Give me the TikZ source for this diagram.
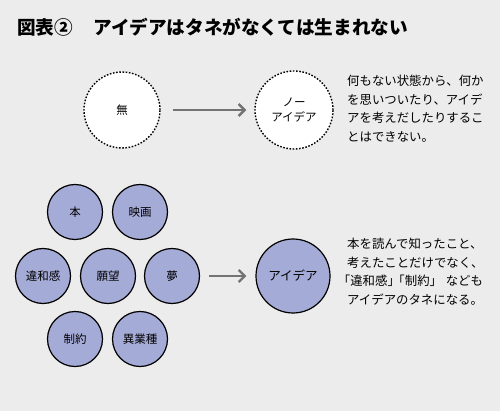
\documentclass[tikz,border=0pt]{standalone}
\usepackage{fontspec}
\setmainfont{Noto Sans CJK JP}
\usetikzlibrary{arrows.meta}
\definecolor{bg}{HTML}{EBECEB}
\definecolor{lav}{HTML}{A5ABD7}
\definecolor{arr}{HTML}{737373}
\newcommand{\lbr}[1]{\makebox[#1][r]{「}}
\newcommand{\rbr}[1]{\makebox[#1][l]{」}}
\begin{document}
\begin{tikzpicture}[x=1pt,y=-1pt,
  dotc/.style={circle,draw=black,fill=white,line width=1.4pt,dash pattern=on 1.6pt off 1.6pt,minimum size=76pt,inner sep=0pt,font=\fontsize{11.5}{15}\selectfont,align=center},
  lavc/.style={circle,draw=black,fill=lav,line width=1.2pt,minimum size=55pt,inner sep=0pt,font=\fontsize{11.5}{14}\selectfont},
  bigc/.style={circle,draw=black,fill=lav,line width=1.2pt,minimum size=74pt,inner sep=0pt,font=\fontsize{12.5}{15}\selectfont},
  arrow/.style={draw=arr,line width=2.6pt,-{Straight Barb[length=6pt,width=12pt,line width=2.4pt]}},
  body/.style={anchor=north west,inner sep=0pt,align=left,font=\fontsize{12.4}{18.5}\selectfont}]
\fill[bg] (0,0) rectangle (500,411);
\useasboundingbox (0,0) rectangle (500,411);
\node[anchor=west,inner sep=0pt,font=\fontsize{18.6}{20}\selectfont\bfseries] (title) at (17,27) {図表②\hspace{1.1em}アイデアはタネがなくては生まれない};
% top row
\node[dotc] (mu) at (122,110) {無};
\node[dotc,minimum size=78pt] (no) at (294,110) {ノー\\アイデア};
\coordinate (a1s) at ([xshift=12pt]mu.east);
\coordinate (a1e) at ([xshift=-8pt]no.west);
\draw[arrow] (a1s) -- (a1e);
\node[body] (t1) at (347,75) {何もない状態から、何か\\を思いついたり、アイデ\\アを考えだしたりするこ\\とはできない。};
% bottom cluster
\node[lavc] (hon) at (75,212) {本};
\node[lavc] (eiga) at (140,212) {映画};
\node[lavc] (iwa) at (43,276) {違和感};
\node[lavc] (gan) at (108,276) {願望};
\node[lavc] (yume) at (172,276) {夢};
\node[lavc] (sei) at (75,339) {制約};
\node[lavc] (igyo) at (140,339) {異業種};
\node[bigc] (idea) at (293,276) {アイデア};
\coordinate (a2s) at ([xshift=9pt]yume.east);
\coordinate (a2e) at ([xshift=-9pt]idea.west);
\draw[arrow] (a2s) -- (a2e);
\node[body] (t2) at (347,238) {本を読んで知ったこと、\\考えたことだけでなく、\\\lbr{0.25em}違和感\rbr{0.5em}\lbr{0.9em}制約\rbr{0.5em}\hspace{0.8em}なども\\アイデアのタネになる。};
\end{tikzpicture}
\end{document}
